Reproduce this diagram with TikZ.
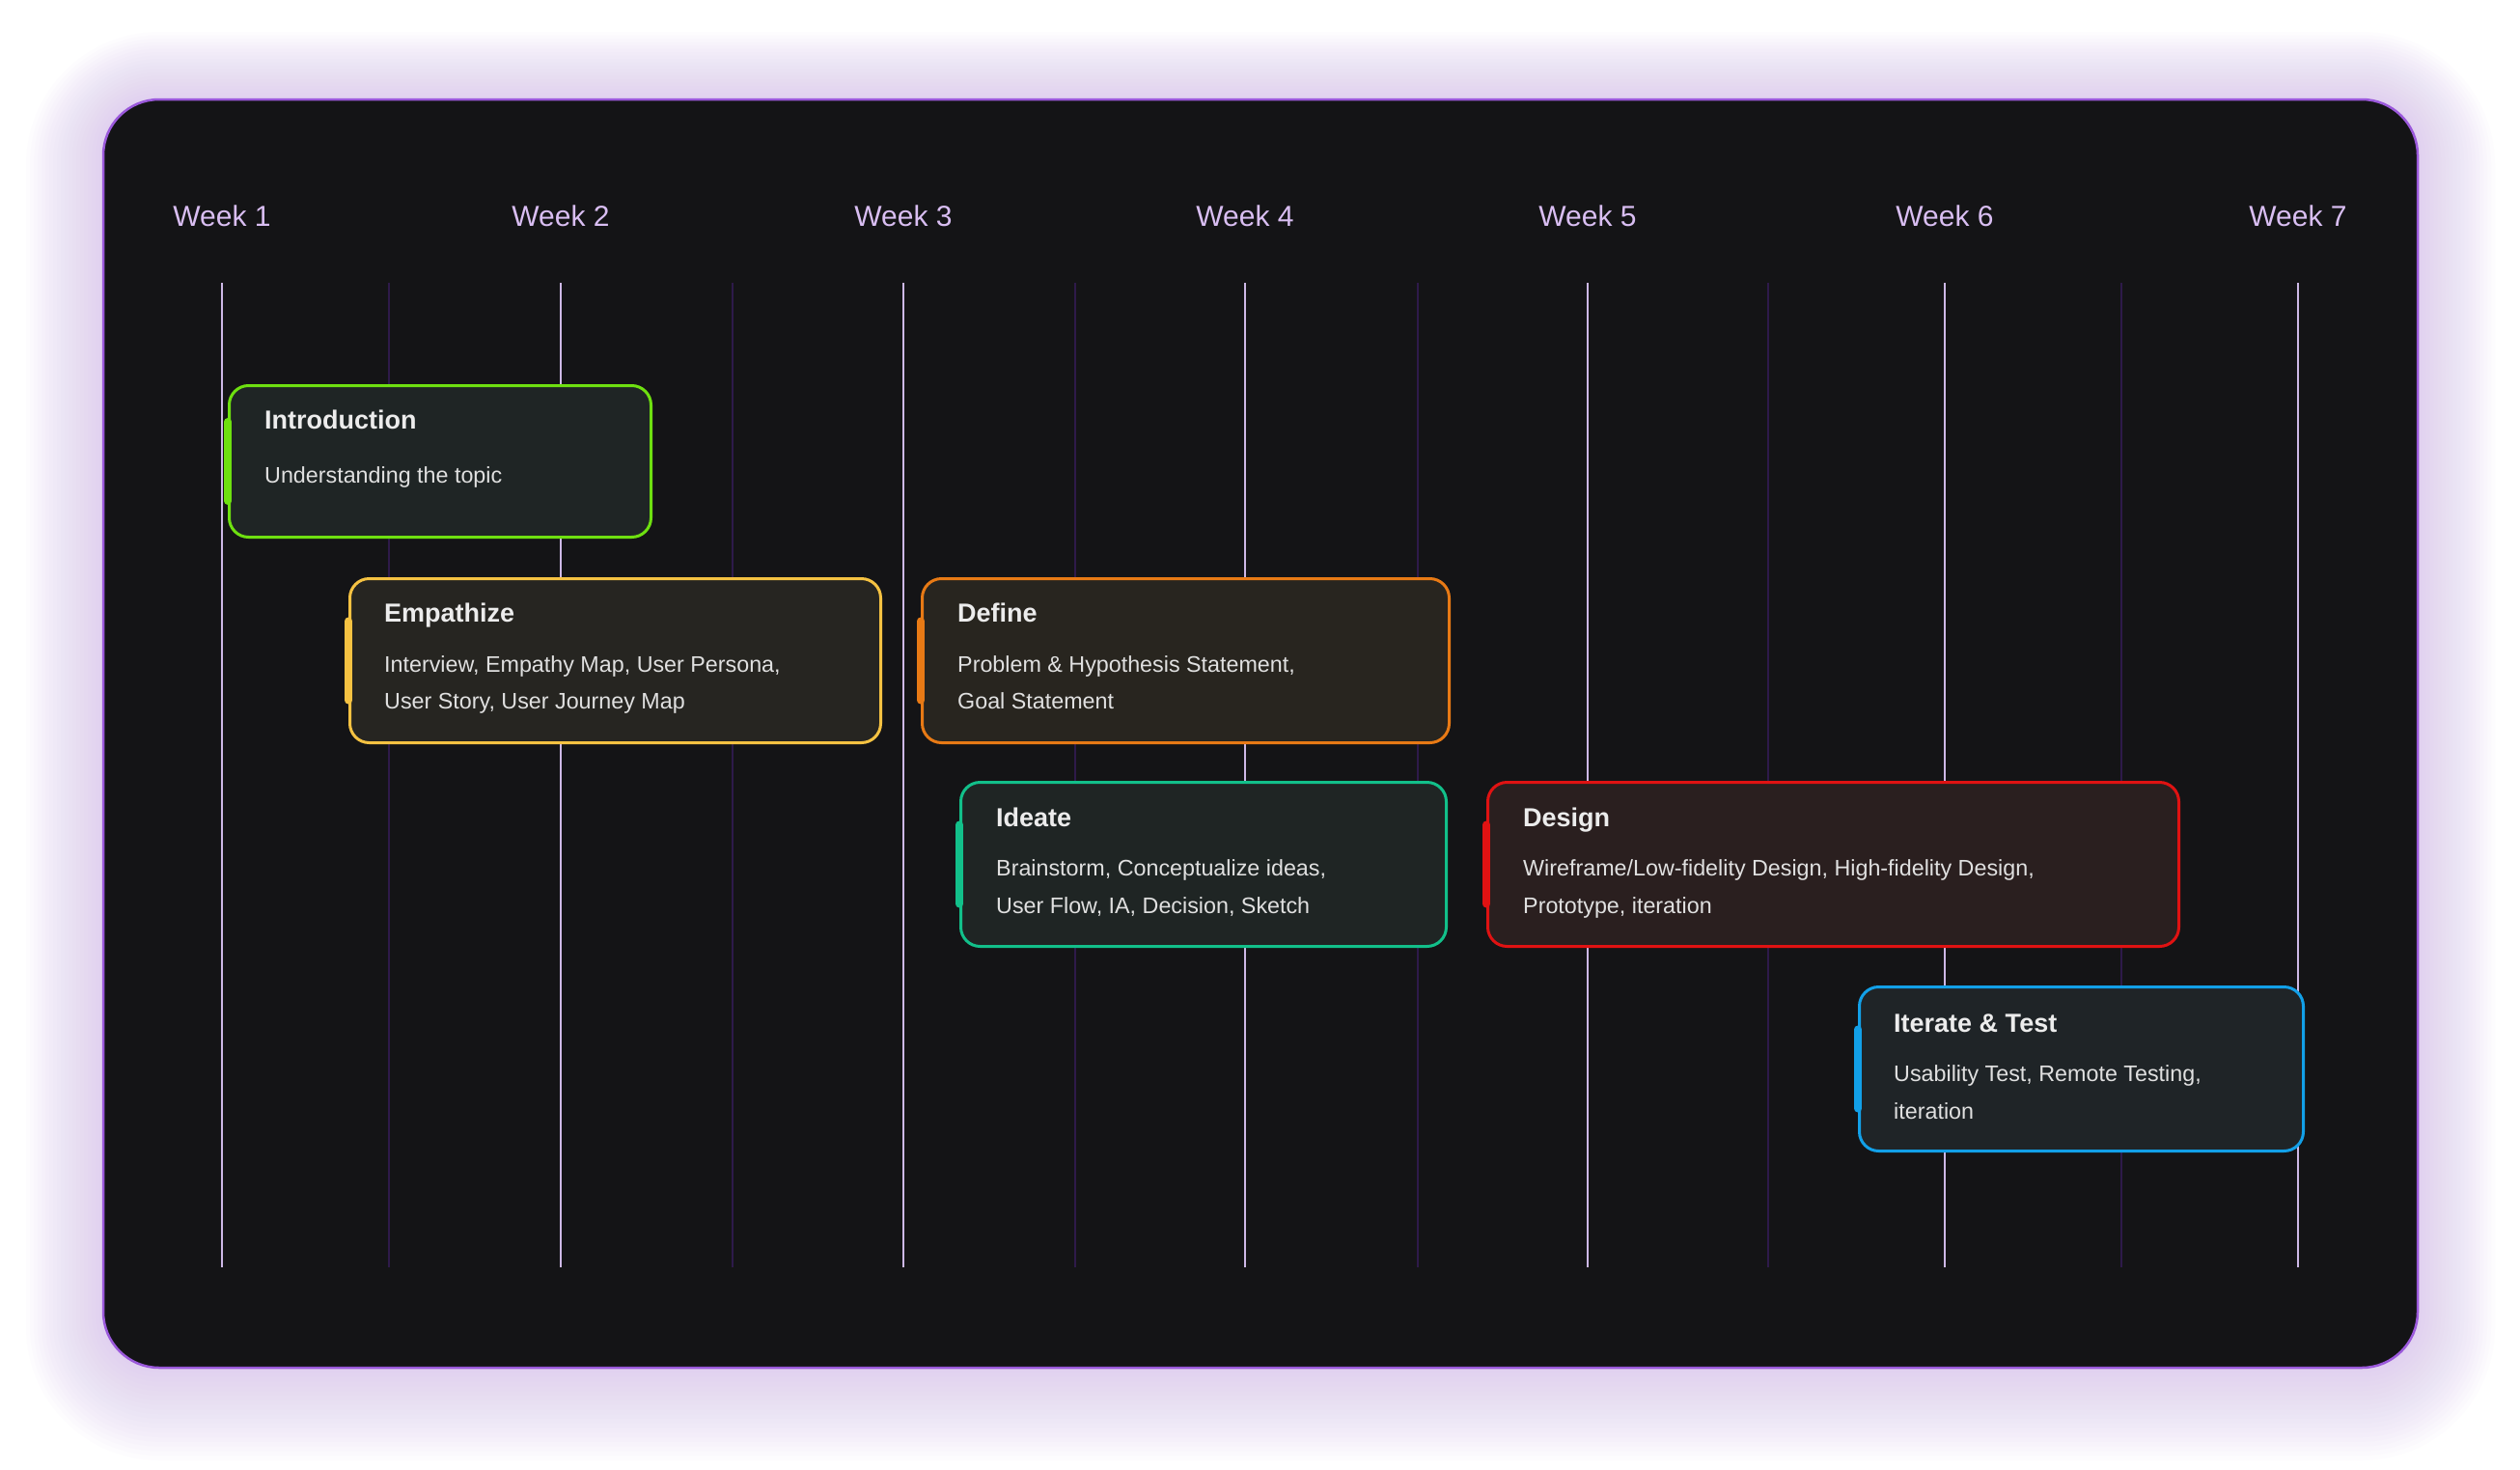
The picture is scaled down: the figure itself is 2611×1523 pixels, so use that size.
\documentclass[tikz,border=0pt]{standalone}
\usepackage{fontspec}
\setmainfont{Liberation Sans}
\definecolor{panelfill}{HTML}{141416}
\definecolor{panelborder}{HTML}{9B59DB}
\definecolor{glowc}{RGB}{205,175,240}
\definecolor{weektext}{HTML}{D9BEF2}
\definecolor{weekline}{HTML}{CDB8E6}
\definecolor{halfline}{HTML}{2E1A4A}
\definecolor{txttitle}{HTML}{ECECEC}
\definecolor{txtbody}{HTML}{E0E0E0}
\definecolor{cgreen}{HTML}{6EE010}
\definecolor{cyellow}{HTML}{F5C242}
\definecolor{corange}{HTML}{E87A15}
\definecolor{cteal}{HTML}{12C08A}
\definecolor{cred}{HTML}{E01212}
\definecolor{cblue}{HTML}{12A0E8}
\definecolor{fintro}{HTML}{1F2525}
\definecolor{fempa}{HTML}{262521}
\definecolor{fdefine}{HTML}{28251F}
\definecolor{fideate}{HTML}{1F2524}
\definecolor{fdesign}{HTML}{2A1F1F}
\definecolor{fiter}{HTML}{1F2427}
\tikzset{
  weekrule/.style={draw=weekline, line width=1.6pt},
  halfrule/.style={draw=halfline, line width=1.6pt},
  weeklabel/.style={text=weektext, font=\fontsize{30}{36}\selectfont, anchor=base, inner sep=0pt},
  phasebox/.style={rounded corners=20pt, line width=3pt, anchor=north west, inner sep=0pt},
  accent/.style={line width=8pt, line cap=round},
  ptitle/.style={text=txttitle, font=\bfseries\fontsize{27}{32}\selectfont, anchor=base west, inner sep=0pt},
  pbody/.style={text=txtbody, font=\fontsize{23.3}{28}\selectfont, anchor=base west, inner sep=0pt},
}
\begin{document}
\begin{tikzpicture}[x=1pt, y=-1pt]
\useasboundingbox (0,0) rectangle (2611,1523);
\fill[white] (0,0) rectangle (2611,1523);
% glow
\foreach \i in {20,19,...,1}{
  \pgfmathsetmacro{\rr}{58+\i*4}
  \fill[glowc, opacity=0.03, rounded corners=\rr pt]
    (107-\i*4, 103-\i*3.5) rectangle (2505+\i*4, 1417+\i*4.8);
}
% panel
\draw[draw=panelborder, fill=panelfill, line width=2.5pt, rounded corners=58pt] (107,103) rectangle (2505,1417);
% half-week lines
\foreach \x in {403,759,1114,1469,1832,2198}{
  \draw[halfrule] (\x,293) -- (\x,1313);
}
% week lines
\foreach \x in {230,581,936,1290,1645,2015,2381}{
  \draw[weekrule] (\x,293) -- (\x,1313);
}
% week labels
\node[weeklabel] (w1) at (230,234) {Week 1};
\node[weeklabel] (w2) at (581,234) {Week 2};
\node[weeklabel] (w3) at (936,234) {Week 3};
\node[weeklabel] (w4) at (1290,234) {Week 4};
\node[weeklabel] (w5) at (1645,234) {Week 5};
\node[weeklabel] (w6) at (2015,234) {Week 6};
\node[weeklabel] (w7) at (2381,234) {Week 7};

% Introduction
\node[phasebox, draw=cgreen, fill=fintro, minimum width=437pt, minimum height=157pt] (intro) at (236,398) {};
\draw[accent, cgreen] ([yshift=41pt]intro.west) -- ([yshift=-41pt]intro.west);
\node[ptitle] (introT) at (274,444) {Introduction};
\node[pbody] (introB) at (274,500) {Understanding the topic};

% Empathize
\node[phasebox, draw=cyellow, fill=fempa, minimum width=550pt, minimum height=170pt] (empa) at (361,598) {};
\draw[accent, cyellow] ([yshift=41pt]empa.west) -- ([yshift=-41pt]empa.west);
\node[ptitle] (empaT) at (398,644) {Empathize};
\node[pbody] (empaB1) at (398,696) {Interview, Empathy Map, User Persona,};
\node[pbody] (empaB2) at (398,734) {User Story, User Journey Map};

% Define
\node[phasebox, draw=corange, fill=fdefine, minimum width=546pt, minimum height=170pt] (define) at (954,598) {};
\draw[accent, corange] ([yshift=41pt]define.west) -- ([yshift=-41pt]define.west);
\node[ptitle] (defineT) at (992,644) {Define};
\node[pbody] (defineB1) at (992,696) {Problem \& Hypothesis Statement,};
\node[pbody] (defineB2) at (992,734) {Goal Statement};

% Ideate
\node[phasebox, draw=cteal, fill=fideate, minimum width=503pt, minimum height=170pt] (ideate) at (994,809) {};
\draw[accent, cteal] ([yshift=41pt]ideate.west) -- ([yshift=-41pt]ideate.west);
\node[ptitle] (ideateT) at (1032,856) {Ideate};
\node[pbody] (ideateB1) at (1032,907) {Brainstorm, Conceptualize ideas,};
\node[pbody] (ideateB2) at (1032,946) {User Flow, IA, Decision, Sketch};

% Design
\node[phasebox, draw=cred, fill=fdesign, minimum width=716pt, minimum height=170pt] (design) at (1540,809) {};
\draw[accent, cred] ([yshift=41pt]design.west) -- ([yshift=-41pt]design.west);
\node[ptitle] (designT) at (1578,856) {Design};
\node[pbody] (designB1) at (1578,907) {Wireframe/Low-fidelity Design, High-fidelity Design,};
\node[pbody] (designB2) at (1578,946) {Prototype, iteration};

% Iterate & Test
\node[phasebox, draw=cblue, fill=fiter, minimum width=460pt, minimum height=170pt] (iter) at (1925,1021) {};
\draw[accent, cblue] ([yshift=41pt]iter.west) -- ([yshift=-41pt]iter.west);
\node[ptitle] (iterT) at (1962,1069) {Iterate \& Test};
\node[pbody] (iterB1) at (1962,1120) {Usability Test, Remote Testing,};
\node[pbody] (iterB2) at (1962,1159) {iteration};
\end{tikzpicture}
\end{document}
